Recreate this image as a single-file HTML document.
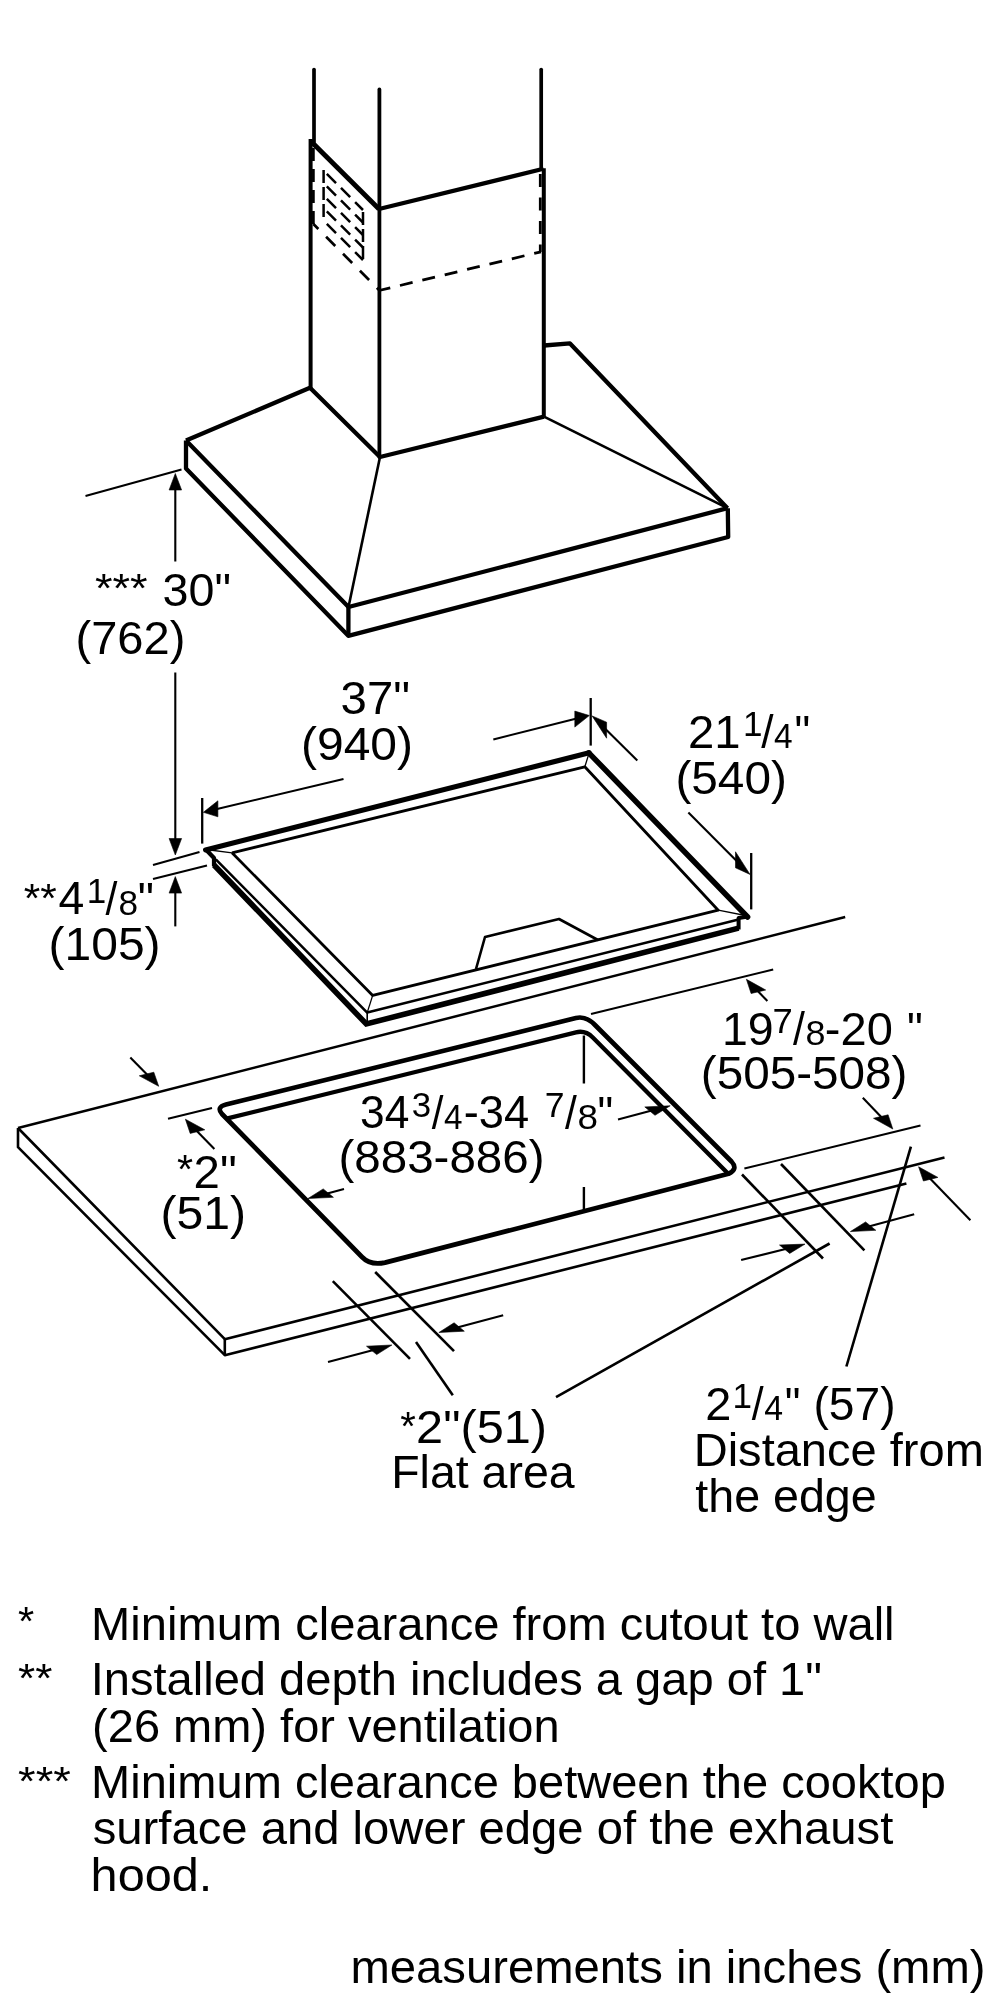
<!DOCTYPE html>
<html><head><meta charset="utf-8"><title>Installation dimensions</title>
<style>
html,body{margin:0;padding:0;background:#fff;}
svg{display:block;will-change:transform;}
svg text{font-family:"Liberation Sans",sans-serif;fill:#000;}
</style></head>
<body>
<svg width="1000" height="2000" viewBox="0 0 1000 2000">
<rect width="1000" height="2000" fill="#fff"/>
<g fill="none" stroke="#000" stroke-linecap="butt" stroke-linejoin="round">
<line x1="314" y1="69.5" x2="314" y2="142" stroke-width="3.7" stroke-linecap="round"/>
<line x1="379.4" y1="89.5" x2="379.4" y2="457" stroke-width="3.8" stroke-linecap="round"/>
<line x1="541.2" y1="69.5" x2="541.2" y2="169" stroke-width="3.7" stroke-linecap="round"/>
<line x1="310.6" y1="139" x2="310.6" y2="388" stroke-width="4.0" />
<line x1="543.8" y1="168.2" x2="543.8" y2="416.6" stroke-width="4.0" />
<line x1="310.6" y1="141" x2="379" y2="209" stroke-width="4.9" />
<line x1="379" y1="209" x2="543.5" y2="168.8" stroke-width="4.2" />
<line x1="313.4" y1="148" x2="313.4" y2="224" stroke-width="2.7" stroke-dasharray="13 8"/>
<line x1="313.4" y1="224" x2="379" y2="290" stroke-width="2.7" stroke-dasharray="13 11" stroke-dashoffset="6"/>
<line x1="541" y1="251.8" x2="379" y2="290.5" stroke-width="2.8" stroke-dasharray="13 10" stroke-dashoffset="6"/>
<line x1="540.3" y1="174" x2="540.3" y2="252" stroke-width="2.8" stroke-dasharray="13 10.5"/>
<line x1="323.6" y1="170" x2="323.6" y2="221" stroke-width="2.5" stroke-dasharray="13 4"/>
<line x1="363" y1="212" x2="363" y2="261" stroke-width="2.5" stroke-dasharray="13 4"/>
<line x1="324" y1="171.0" x2="363" y2="210.0" stroke-width="2.5" stroke-dasharray="13 7" stroke-dashoffset="-4"/>
<line x1="324" y1="183.5" x2="363" y2="222.5" stroke-width="2.5" stroke-dasharray="13 7" stroke-dashoffset="-4"/>
<line x1="324" y1="196.0" x2="363" y2="235.0" stroke-width="2.5" stroke-dasharray="13 7" stroke-dashoffset="-4"/>
<line x1="324" y1="208.5" x2="363" y2="247.5" stroke-width="2.5" stroke-dasharray="13 7" stroke-dashoffset="-4"/>
<line x1="324" y1="221.0" x2="363" y2="260.0" stroke-width="2.5" stroke-dasharray="13 7" stroke-dashoffset="-4"/>
<polyline points="186,440.5 310,387.8 380,457 544,416.6" stroke-width="4.3" />
<line x1="380" y1="457" x2="348.5" y2="607" stroke-width="2.6" />
<line x1="544" y1="416.6" x2="727.5" y2="508.2" stroke-width="2.6" />
<polyline points="544,345.5 570,343.4 727.5,508.2" stroke-width="4.3" />
<polyline points="186,440.5 348.5,607 727.5,508.2" stroke-width="4.3" />
<polyline points="186,440.5 186,468.5 348.3,635.8 728.2,537 727.8,508.2" stroke-width="4.3" />
<line x1="348.4" y1="607" x2="348.4" y2="635.5" stroke-width="4.3" />
<line x1="85.5" y1="496" x2="181.5" y2="469.5" stroke-width="2.1" />
<line x1="175.3" y1="561.5" x2="175.3" y2="488.0" stroke-width="2.1" />
<polygon points="175.3,473.5 181.6,490.0 169.1,490.0" fill="#000" stroke="#000" stroke-width="0.6" stroke-linejoin="miter"/>
<line x1="175.3" y1="672.5" x2="175.3" y2="840.5" stroke-width="2.1" />
<polygon points="175.3,855 181.6,838.5 169.1,838.5" fill="#000" stroke="#000" stroke-width="0.6" stroke-linejoin="miter"/>
<line x1="153" y1="865" x2="199.5" y2="852" stroke-width="2.1" />
<line x1="153" y1="879" x2="207" y2="865.5" stroke-width="2.1" />
<line x1="175.3" y1="926.4" x2="175.3" y2="891.1" stroke-width="2.1" />
<polygon points="175.3,876.6 181.6,893.1 169.1,893.1" fill="#000" stroke="#000" stroke-width="0.6" stroke-linejoin="miter"/>
<line x1="205.6" y1="849.9" x2="589.2" y2="752.8" stroke-width="5.2" stroke-linecap="round"/>
<line x1="588.8" y1="752.8" x2="747.6" y2="917" stroke-width="5.5" stroke-linecap="round"/>
<polyline points="232,852.8 584.8,766.8 718.2,910.2 372.7,995.4 232,852.8" stroke-width="2.8" />
<line x1="206" y1="849.5" x2="232" y2="852.8" stroke-width="1.3" />
<line x1="589.2" y1="752.8" x2="584.8" y2="766.8" stroke-width="1.3" />
<line x1="748" y1="916" x2="718.2" y2="910.2" stroke-width="1.3" />
<line x1="372.7" y1="995.4" x2="367.2" y2="1012.6" stroke-width="1.3" />
<polyline points="215.8,859.3 367.2,1012.6 738.6,919.4" stroke-width="2.6" />
<polyline points="214,865 366.3,1024 738.6,928.1" stroke-width="5.6" stroke-linejoin="miter"/>
<polyline points="205.6,849.2 214,858 214,866" stroke-width="4.2" />
<line x1="367.2" y1="1012.6" x2="367.2" y2="1023" stroke-width="1.6" />
<polyline points="748,916.5 738.6,918 738.6,929.5" stroke-width="4" />
<polyline points="476,969 485,937 559,919 598,940" stroke-width="2.6" />
<line x1="202.2" y1="798" x2="202.2" y2="843.6" stroke-width="2.3" />
<line x1="343.5" y1="778.9" x2="216.0" y2="809.3" stroke-width="2.1" />
<polygon points="203.4,812.3 217.9,816.8 217.9,800.8" fill="#000" stroke="#000" stroke-width="0.6" stroke-linejoin="miter"/>
<line x1="590.7" y1="698" x2="590.7" y2="745.6" stroke-width="2.3" />
<line x1="493.3" y1="739.4" x2="576.7" y2="718.6" stroke-width="2.1" />
<polygon points="589.3,715.5 574.8,727.1 574.8,711.1" fill="#000" stroke="#000" stroke-width="0.6" stroke-linejoin="miter"/>
<line x1="637.3" y1="760.5" x2="605.2" y2="728.8" stroke-width="2.1" />
<polygon points="592.1,715.9 606.6,738.2 606.6,722.2" fill="#000" stroke="#000" stroke-width="0.6" stroke-linejoin="miter"/>
<line x1="688.4" y1="812.5" x2="736.9" y2="861.2" stroke-width="2.1" />
<polygon points="750,874.4 735.5,867.8 735.5,851.8" fill="#000" stroke="#000" stroke-width="0.6" stroke-linejoin="miter"/>
<line x1="751.2" y1="853" x2="751.2" y2="909.4" stroke-width="2.3" />
<line x1="18" y1="1128" x2="845.2" y2="917" stroke-width="2.5" />
<polyline points="18,1128 224.8,1339.2 944.5,1157.4" stroke-width="2.6" />
<polyline points="18,1128 18,1147.2 224.8,1355.2 906.4,1183.5" stroke-width="2.6" />
<line x1="224.8" y1="1339.2" x2="224.8" y2="1355.2" stroke-width="2.6" />
<path d="M 226,1104.5 L 576,1018 Q 585.7,1015.6 595,1025 L 731.5,1161.5 Q 738.5,1169 728.5,1173.8 L 385,1262.6 Q 370.5,1265.8 362,1257 L 222,1114 Q 216,1107 226,1104.5 Z" stroke-width="4.7" />
<path d="M 227.5,1118.4 L 576,1032.3 Q 585.4,1030 592.8,1037.5 L 728,1173.5" stroke-width="4.3" />
<line x1="583.9" y1="1035.5" x2="583.9" y2="1083.5" stroke-width="2.4" />
<line x1="583.9" y1="1187" x2="583.9" y2="1210.5" stroke-width="2.4" />
<line x1="130.3" y1="1057.5" x2="148.0" y2="1075.4" stroke-width="2.1" />
<polygon points="158.7,1086.3 153.8,1072.2 139.3,1075.8" fill="#000" stroke="#000" stroke-width="0.6" stroke-linejoin="miter"/>
<line x1="168" y1="1118.8" x2="212" y2="1108" stroke-width="2.1" />
<line x1="214.4" y1="1149" x2="196.1" y2="1130.2" stroke-width="2.1" />
<polygon points="185.4,1119.2 204.8,1129.8 190.2,1133.4" fill="#000" stroke="#000" stroke-width="0.6" stroke-linejoin="miter"/>
<line x1="344" y1="1189" x2="326.4" y2="1193.7" stroke-width="2.1" />
<polygon points="308,1198.5 333.4,1197.3 323.2,1188.9" fill="#000" stroke="#000" stroke-width="0.6" stroke-linejoin="miter"/>
<line x1="618" y1="1119.5" x2="651.8" y2="1110.6" stroke-width="2.1" />
<polygon points="670.2,1105.8 655.0,1115.3 644.8,1106.9" fill="#000" stroke="#000" stroke-width="0.6" stroke-linejoin="miter"/>
<line x1="591" y1="1014" x2="773.2" y2="969.5" stroke-width="2.1" />
<line x1="767.4" y1="1001" x2="757.0" y2="990.3" stroke-width="2.1" />
<polygon points="746.4,979.3 765.7,990.0 751.1,993.5" fill="#000" stroke="#000" stroke-width="0.6" stroke-linejoin="miter"/>
<line x1="862.8" y1="1097.8" x2="882.2" y2="1118.0" stroke-width="2.1" />
<polygon points="892.8,1129 888.1,1114.8 873.5,1118.3" fill="#000" stroke="#000" stroke-width="0.6" stroke-linejoin="miter"/>
<line x1="744.4" y1="1168.5" x2="920.5" y2="1125.6" stroke-width="2.1" />
<line x1="742" y1="1174.5" x2="823" y2="1258.5" stroke-width="2.6" />
<line x1="781" y1="1164" x2="864.4" y2="1250.4" stroke-width="2.6" />
<line x1="910.9" y1="1146.6" x2="846.4" y2="1366.5" stroke-width="2.6" />
<line x1="970.4" y1="1220.2" x2="929.3" y2="1177.8" stroke-width="2.1" />
<polygon points="918.6,1166.8 937.9,1177.4 923.4,1181.0" fill="#000" stroke="#000" stroke-width="0.6" stroke-linejoin="miter"/>
<line x1="914.2" y1="1214.2" x2="868.7" y2="1226.6" stroke-width="2.1" />
<polygon points="850.4,1231.6 875.8,1230.3 865.6,1221.9" fill="#000" stroke="#000" stroke-width="0.6" stroke-linejoin="miter"/>
<line x1="741.1" y1="1260" x2="786.6" y2="1248.7" stroke-width="2.1" />
<polygon points="805,1244.1 789.7,1253.4 779.5,1245.0" fill="#000" stroke="#000" stroke-width="0.6" stroke-linejoin="miter"/>
<line x1="556" y1="1397.2" x2="829.6" y2="1243.5" stroke-width="2.6" />
<line x1="332.8" y1="1281.2" x2="410" y2="1358.8" stroke-width="2.6" />
<line x1="375.2" y1="1272" x2="454" y2="1351.2" stroke-width="2.6" />
<line x1="416" y1="1342" x2="452.8" y2="1395.2" stroke-width="2.6" />
<line x1="328" y1="1362" x2="373.5" y2="1349.9" stroke-width="2.1" />
<polygon points="391.9,1345 376.7,1354.6 366.5,1346.2" fill="#000" stroke="#000" stroke-width="0.6" stroke-linejoin="miter"/>
<line x1="503.2" y1="1315.2" x2="457.2" y2="1327.6" stroke-width="2.1" />
<polygon points="438.9,1332.5 464.3,1331.2 454.1,1322.8" fill="#000" stroke="#000" stroke-width="0.6" stroke-linejoin="miter"/>
</g>
<g>
<text x="94.9" y="601.7" font-size="40" textLength="52.7" lengthAdjust="spacingAndGlyphs">***</text>
<text x="162.6" y="606.4" font-size="45.5" textLength="68.4" lengthAdjust="spacingAndGlyphs">30&quot;</text>
<text x="75.5" y="653.6" font-size="45.5" textLength="109.9" lengthAdjust="spacingAndGlyphs">(762)</text>
<text x="340.6" y="714" font-size="45.5" textLength="69.4" lengthAdjust="spacingAndGlyphs">37&quot;</text>
<text x="301.0" y="759.6" font-size="45.5" textLength="112.0" lengthAdjust="spacingAndGlyphs">(940)</text>
<text x="688.0" y="748" font-size="45.5" textLength="52.6" lengthAdjust="spacingAndGlyphs">21</text>
<text x="742.9" y="736" font-size="35" textLength="19.5" lengthAdjust="spacingAndGlyphs">1</text>
<text x="761.2" y="748.2" font-size="45.5" textLength="12.3" lengthAdjust="spacingAndGlyphs">/</text>
<text x="774.1" y="747.8" font-size="35" textLength="18.6" lengthAdjust="spacingAndGlyphs">4</text>
<text x="794.6" y="748" font-size="45.5" textLength="15.7" lengthAdjust="spacingAndGlyphs">&quot;</text>
<text x="675.4" y="793.6" font-size="45.5" textLength="111.5" lengthAdjust="spacingAndGlyphs">(540)</text>
<text x="23.7" y="911.7" font-size="40" textLength="33.0" lengthAdjust="spacingAndGlyphs">**</text>
<text x="58.5" y="914.4" font-size="45.5" textLength="25.8" lengthAdjust="spacingAndGlyphs">4</text>
<text x="86.8" y="903.3" font-size="35" textLength="19.5" lengthAdjust="spacingAndGlyphs">1</text>
<text x="105.5" y="915.2" font-size="45.5" textLength="11.9" lengthAdjust="spacingAndGlyphs">/</text>
<text x="118.4" y="915.2" font-size="35" textLength="19.6" lengthAdjust="spacingAndGlyphs">8</text>
<text x="137.7" y="914.8" font-size="45.5" textLength="16.2" lengthAdjust="spacingAndGlyphs">&quot;</text>
<text x="48.6" y="960" font-size="45.5" textLength="112.0" lengthAdjust="spacingAndGlyphs">(105)</text>
<text x="722.0" y="1045" font-size="45.5" textLength="51.7" lengthAdjust="spacingAndGlyphs">19</text>
<text x="772.4" y="1032.7" font-size="35" textLength="20.3" lengthAdjust="spacingAndGlyphs">7</text>
<text x="793.0" y="1045" font-size="45.5" textLength="11.9" lengthAdjust="spacingAndGlyphs">/</text>
<text x="805.6" y="1044.7" font-size="35" textLength="20.0" lengthAdjust="spacingAndGlyphs">8</text>
<text x="824.8" y="1045" font-size="45.5" textLength="68.0" lengthAdjust="spacingAndGlyphs">-20</text>
<text x="907.1" y="1045" font-size="45.5" textLength="15.8" lengthAdjust="spacingAndGlyphs">&quot;</text>
<text x="700.8" y="1088.75" font-size="45.5" textLength="206.7" lengthAdjust="spacingAndGlyphs">(505-508)</text>
<text x="360.0" y="1128.4" font-size="45.5" textLength="49.3" lengthAdjust="spacingAndGlyphs">34</text>
<text x="411.8" y="1117.4" font-size="35" textLength="19.4" lengthAdjust="spacingAndGlyphs">3</text>
<text x="431.7" y="1129.2" font-size="45.5" textLength="11.7" lengthAdjust="spacingAndGlyphs">/</text>
<text x="444.1" y="1129" font-size="35" textLength="18.5" lengthAdjust="spacingAndGlyphs">4</text>
<text x="463.7" y="1128.4" font-size="45.5" textLength="65.4" lengthAdjust="spacingAndGlyphs">-34</text>
<text x="544.8" y="1117.4" font-size="35" textLength="19.8" lengthAdjust="spacingAndGlyphs">7</text>
<text x="565.0" y="1129.2" font-size="45.5" textLength="11.8" lengthAdjust="spacingAndGlyphs">/</text>
<text x="577.4" y="1129.4" font-size="35" textLength="20.5" lengthAdjust="spacingAndGlyphs">8</text>
<text x="597.6" y="1128.8" font-size="45.5" textLength="15.7" lengthAdjust="spacingAndGlyphs">&quot;</text>
<text x="338.5" y="1173" font-size="45.5" textLength="206.0" lengthAdjust="spacingAndGlyphs">(883-886)</text>
<text x="176.9" y="1182.9" font-size="40" textLength="16.1" lengthAdjust="spacingAndGlyphs">*</text>
<text x="193.6" y="1187.8" font-size="45.5" textLength="43.2" lengthAdjust="spacingAndGlyphs">2&quot;</text>
<text x="160.4" y="1229.4" font-size="45.5" textLength="85.6" lengthAdjust="spacingAndGlyphs">(51)</text>
<text x="400.3" y="1439.7" font-size="40" textLength="15.6" lengthAdjust="spacingAndGlyphs">*</text>
<text x="416.1" y="1442.8" font-size="45.5" textLength="130.9" lengthAdjust="spacingAndGlyphs">2&quot;(51)</text>
<text x="391.2" y="1487.9" font-size="45.5" textLength="183.5" lengthAdjust="spacingAndGlyphs">Flat area</text>
<text x="705.3" y="1419.6" font-size="45.5" textLength="26.1" lengthAdjust="spacingAndGlyphs">2</text>
<text x="732.6" y="1407.9" font-size="35" textLength="19.5" lengthAdjust="spacingAndGlyphs">1</text>
<text x="751.7" y="1420.2" font-size="45.5" textLength="11.9" lengthAdjust="spacingAndGlyphs">/</text>
<text x="764.2" y="1419.8" font-size="35" textLength="18.8" lengthAdjust="spacingAndGlyphs">4</text>
<text x="784.7" y="1420" font-size="45.5" textLength="15.7" lengthAdjust="spacingAndGlyphs">&quot;</text>
<text x="813.5" y="1419.6" font-size="45.5" textLength="82.1" lengthAdjust="spacingAndGlyphs">(57)</text>
<text x="693.7" y="1466" font-size="45.5" textLength="290.2" lengthAdjust="spacingAndGlyphs">Distance from</text>
<text x="695.3" y="1511.5" font-size="45.5" textLength="181.4" lengthAdjust="spacingAndGlyphs">the edge</text>
<text x="18.1" y="1635.3" font-size="40" textLength="16.2" lengthAdjust="spacingAndGlyphs">*</text>
<text x="18.1" y="1691.9" font-size="40" textLength="34.4" lengthAdjust="spacingAndGlyphs">**</text>
<text x="18.1" y="1794.8" font-size="40" textLength="52.7" lengthAdjust="spacingAndGlyphs">***</text>
<text x="91.1" y="1639.5" font-size="45.5" textLength="803.5" lengthAdjust="spacingAndGlyphs">Minimum clearance from cutout to wall</text>
<text x="90.7" y="1695" font-size="45.5" textLength="731.3" lengthAdjust="spacingAndGlyphs">Installed depth includes a gap of 1&quot;</text>
<text x="92.1" y="1742" font-size="45.5" textLength="467.5" lengthAdjust="spacingAndGlyphs">(26 mm) for ventilation</text>
<text x="91.1" y="1797.5" font-size="45.5" textLength="854.8" lengthAdjust="spacingAndGlyphs">Minimum clearance between the cooktop</text>
<text x="92.7" y="1844" font-size="45.5" textLength="800.6" lengthAdjust="spacingAndGlyphs">surface and lower edge of the exhaust</text>
<text x="90.6" y="1890.5" font-size="45.5" textLength="121.8" lengthAdjust="spacingAndGlyphs">hood.</text>
<text x="350.5" y="1982.5" font-size="45.5" textLength="635.0" lengthAdjust="spacingAndGlyphs">measurements in inches (mm)</text>
</g>
</svg>
</body></html>
